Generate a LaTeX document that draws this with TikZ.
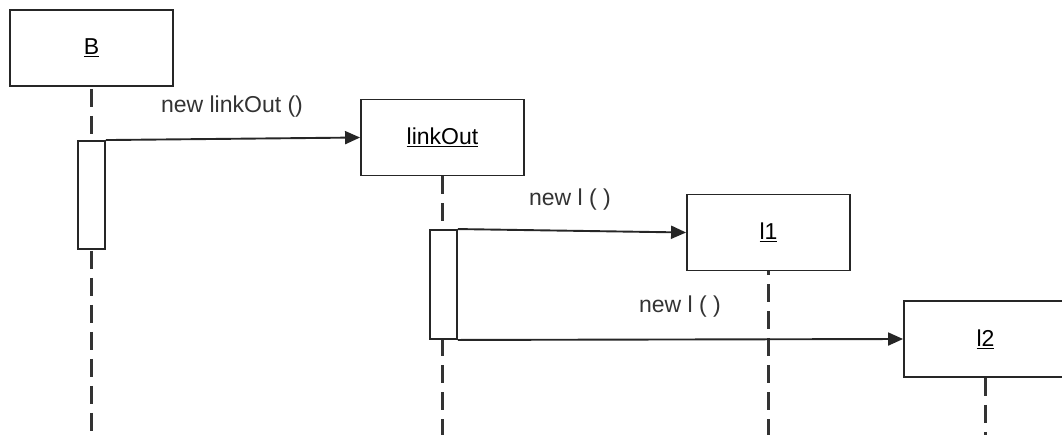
\documentclass[tikz,border=0pt]{standalone}
\usepackage{fontspec}
\setmainfont{Liberation Sans}
\usetikzlibrary{arrows.meta,backgrounds}
\begin{document}
\begin{tikzpicture}[x=1pt,y=-1pt,
  obj/.style={draw=black!85,line width=1.9pt,fill=white,minimum width=163pt,minimum height=76pt,inner sep=0pt,font=\fontsize{23}{27}\selectfont},
  act/.style={draw=black!85,line width=1.9pt,fill=white,minimum width=27pt,inner sep=0pt},
  life/.style={draw=black!80,line width=2.4pt,dash pattern=on 18pt off 9pt},
  msg/.style={draw=black!85,line width=1.9pt,-{Triangle[length=15pt,width=13pt]}},
  lbl/.style={font=\fontsize{23}{27}\selectfont,text=black!80,inner sep=0pt}]
\clip (0,0) rectangle (1062,434);
% objects
\node[obj] (B) at (91.5,48) {\underline{B}};
\node[obj] (linkOut) at (442.5,137.5) {\underline{linkOut}};
\node[obj] (l1) at (768.5,232.5) {\underline{l1}};
\node[obj] (l2) at (985.5,339) {\underline{l2}};
% activations
\node[act,minimum height=108pt] (actB) at (91.5,195) {};
\node[act,minimum height=109pt] (actL) at (443.5,284.5) {};
% lifeline ends
\coordinate (Bend) at (91.5,440);
\coordinate (Lend) at (442.5,440);
\coordinate (l1end) at (768.5,440);
\coordinate (l2end) at (985.5,440);
\begin{scope}[on background layer]
\fill[white] (0,0) rectangle (1062,434);
\draw[life,dash phase=25pt] (B.south) -- (Bend);
\draw[life] (linkOut.south) -- (Lend);
\draw[life,dash phase=14pt] (l1.south) -- (l1end);
\draw[life] (l2.south) -- (l2end);
\end{scope}
% messages
\draw[msg] (actB.north east) -- (linkOut.west);
\draw[msg] (actL.north east) -- (l1.west);
\draw[msg] (actL.south east) -- (l2.west);
% labels
\node[lbl] (m1) at (232,107) {new linkOut ()};
\node[lbl] (m2) at (570,200) {new l ( )};
\node[lbl] (m3) at (680,307) {new l ( )};
\end{tikzpicture}
\end{document}
